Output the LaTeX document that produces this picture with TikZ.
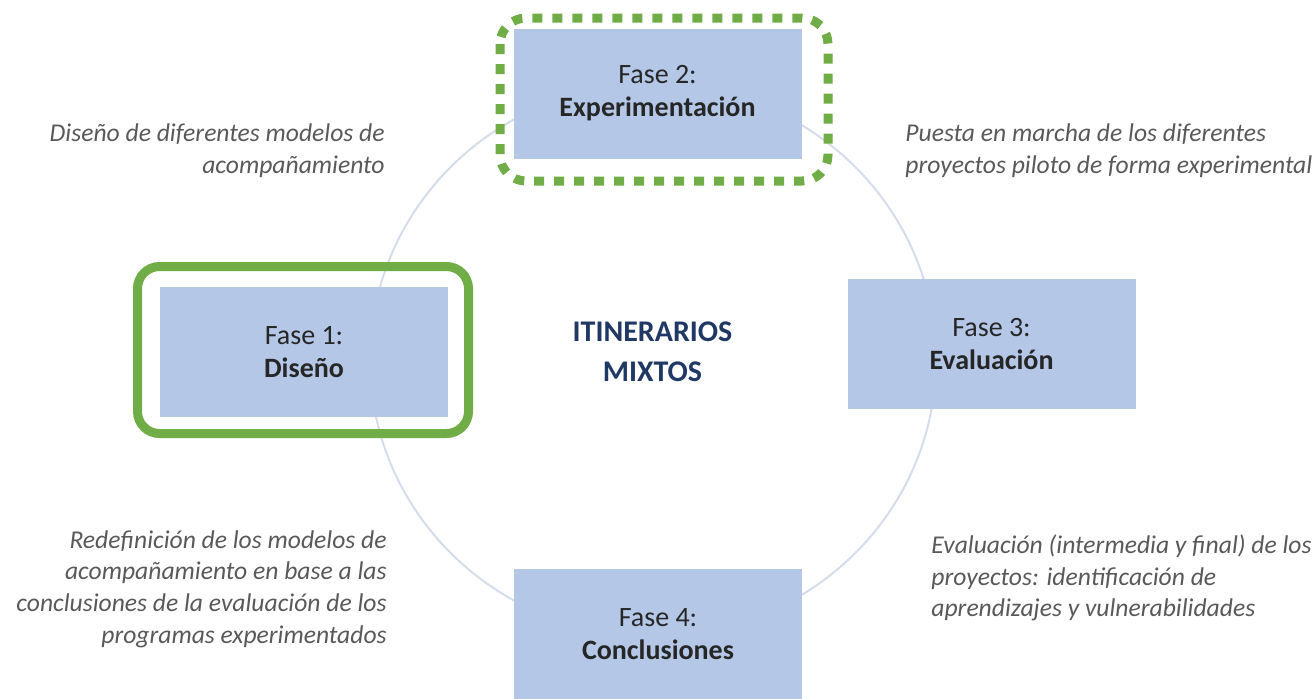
\documentclass[tikz,border=0pt]{standalone}
\usepackage{fontspec}
\setmainfont{Carlito}
\definecolor{faseblue}{HTML}{B4C7E7}
\definecolor{framegreen}{HTML}{70AD47}
\definecolor{ringblue}{HTML}{D5DCEC}
\definecolor{notegray}{HTML}{595959}
\definecolor{titleblue}{HTML}{1F3864}
\tikzset{
  fase/.style = {
    fill=faseblue, text=black!85, align=center, inner sep=0pt,
    minimum width=144pt, minimum height=65pt,
    font=\fontsize{14}{16.5}\selectfont
  },
  nota/.style = {
    text=notegray, inner sep=0pt,
    font=\itshape\fontsize{12.8}{15.9}\selectfont
  },
  titulo/.style = {
    text=titleblue, align=center, inner sep=0pt,
    font=\bfseries\fontsize{15}{20}\selectfont
  },
  ring/.style = {draw=ringblue, line width=1pt},
  solidframe/.style = {draw=framegreen, line width=4.5pt, rounded corners=11pt},
  dotframe/.style = {draw=framegreen, line width=4.5pt, rounded corners=13pt,
    dash pattern=on 5pt off 5pt}
}

\begin{document}
\begin{tikzpicture}[x=0.5pt,y=-0.5pt]
  \useasboundingbox (0,0) rectangle (1313,698);
  % ring
  \draw[ring] (653,360) ellipse [x radius=141.5pt, y radius=138pt];
  % phases
  \node[fase] (fase1) at (304,352) {Fase 1:\\\textbf{Diseño}};
  \node[fase] (fase2) at (657.5,93.5) {Fase 2:\\\textbf{Experimentación}};
  \node[fase] (fase3) at (991.5,344) {Fase 3:\\\textbf{Evaluación}};
  \node[fase, anchor=north] (fase4) at (658,569) {Fase 4:\\\textbf{Conclusiones}};
  % frames
  \draw[solidframe] (137.5,266.5) rectangle (468.5,433.5);
  \draw[dotframe] (500,18) rectangle (828,181);
  % centre
  \node[titulo] (itinerarios) at (652.5,352) {ITINERARIOS\\MIXTOS};
  % notes
  \node[nota, anchor=east, align=right] (nota1) at (385,151)
    {Diseño de diferentes modelos de\\acompañamiento};
  \node[nota, anchor=west, align=left] (nota2) at (905,151)
    {Puesta en marcha de los diferentes\\proyectos piloto de forma experimental};
  \node[nota, anchor=west, align=left] (nota3) at (931,578)
    {Evaluación (intermedia y final) de los\\proyectos: identificación de\\aprendizajes y vulnerabilidades};
  \node[nota, anchor=east, align=right] (nota4) at (387,589)
    {Redefinición de los modelos de\\acompañamiento en base a las\\conclusiones de la evaluación de los\\programas experimentados};
\end{tikzpicture}
\end{document}
